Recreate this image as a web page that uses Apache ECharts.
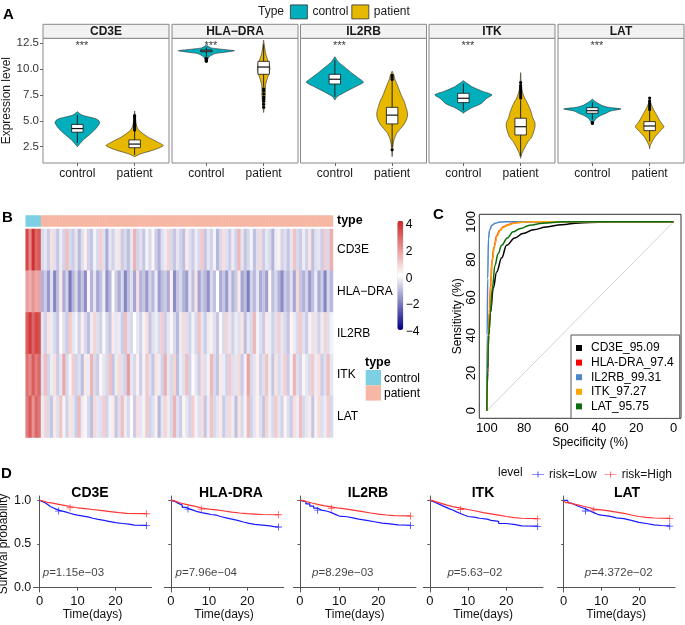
<!DOCTYPE html>
<html>
<head>
<meta charset="utf-8">
<script src="https://cdn.jsdelivr.net/npm/echarts@6/dist/echarts.min.js"></script>
<style>
  html, body { margin: 0; padding: 0; background: #fff; }
  #main { width: 685px; height: 625px; }
</style>
</head>
<body>
<div id="main"></div>
<script>
// ---------- data ----------
const genes = ['CD3E', 'HLA-DRA', 'IL2RB', 'ITK', 'LAT'];
const stripLabels = ['CD3E', 'HLA\u2212DRA', 'IL2RB', 'ITK', 'LAT'];
const groups = ['control', 'patient'];
const exprTicks = [2.5, 5, 7.5, 10, 12.5];

// violin outlines: [expression, half width in group units], control then patient
const violinCD3E = [
  [[2.5,0],[2.83,0.05],[3.2,0.11],[3.47,0.17],[3.8,0.24],[4.1,0.3],[4.5,0.36],[4.82,0.39],[5.05,0.37],[5.24,0.3],[5.4,0.18],[5.56,0.08],[5.88,0]],
  [[1.53,0],[1.8,0.1],[2.18,0.33],[2.6,0.5],[2.98,0.39],[3.47,0.22],[4.1,0.07],[4.6,0.03],[5.2,0.015],[5.95,0]]
];
const violinHLADRA = [
  [[10.72,0],[10.9,0.02],[11.2,0.05],[11.5,0.15],[11.65,0.35],[11.78,0.49],[11.9,0.3],[12.05,0.08],[12.2,0.03],[12.33,0]],
  [[5.8,0],[6.2,0.01],[6.8,0.02],[7.5,0.03],[8.0,0.03],[8.5,0.035],[9.0,0.06],[9.5,0.09],[10.0,0.11],[10.4,0.1],[10.9,0.07],[11.5,0.035],[12.2,0.015],[12.8,0]]
];
const violinIL2RB = [
  [[7.0,0],[7.34,0.04],[7.82,0.19],[8.3,0.36],[8.73,0.5],[9.1,0.42],[9.6,0.3],[10.24,0.16],[10.7,0.06],[11.2,0]],
  [[1.53,0],[2.3,0.01],[2.83,0.02],[3.3,0.04],[3.8,0.08],[4.2,0.14],[4.6,0.2],[5.1,0.25],[5.57,0.27],[6.0,0.26],[6.37,0.24],[6.9,0.21],[7.34,0.17],[7.9,0.13],[8.47,0.09],[9.0,0.05],[9.43,0.03],[9.8,0]]
];
const violinITK = [
  [[5.73,0],[5.88,0.03],[6.27,0.15],[6.5,0.25],[6.7,0.32],[7.0,0.37],[7.18,0.41],[7.5,0.5],[7.65,0.45],[7.82,0.35],[8.05,0.25],[8.3,0.15],[8.6,0.07],[8.88,0]],
  [[1.38,0],[1.8,0.02],[2.18,0.05],[2.6,0.09],[2.98,0.13],[3.4,0.19],[3.8,0.22],[4.4,0.25],[4.8,0.25],[5.3,0.21],[5.73,0.19],[6.2,0.16],[6.7,0.12],[7.2,0.07],[7.82,0.03],[8.6,0.01],[9.66,0]]
];
const violinLAT = [
  [[4.7,0],[4.95,0.03],[5.24,0.07],[5.5,0.14],[5.73,0.24],[5.95,0.32],[6.15,0.5],[6.3,0.28],[6.5,0.16],[6.7,0.1],[6.9,0.04],[7.1,0]],
  [[2.3,0],[2.6,0.01],[3.15,0.06],[3.5,0.1],[3.8,0.15],[4.1,0.2],[4.43,0.25],[4.75,0.21],[5.08,0.17],[5.5,0.13],[5.88,0.09],[6.3,0.05],[6.7,0.02],[7.0,0.01],[7.3,0]]
];
// box stats: [whisker low, q1, median, q3, whisker high]
const boxCD3E   = [[2.85, 3.9, 4.25, 4.65, 5.6], [1.7, 2.4, 2.75, 3.15, 4.0]];
const boxHLADRA = [[11.2, 11.68, 11.76, 11.85, 12.1], [8.3, 9.5, 10.2, 10.75, 12.4]];
const boxIL2RB  = [[7.3, 8.56, 9.02, 9.5, 10.9], [2.4, 4.7, 5.55, 6.3, 8.9]];
const boxITK    = [[6.0, 6.76, 7.18, 7.66, 8.6], [1.6, 3.63, 4.43, 5.25, 7.0]];
const boxLAT    = [[5.1, 5.73, 5.98, 6.27, 6.8], [3.0, 4.05, 4.5, 4.92, 6.0]];
const outCD3E   = [[], [4.1, 4.2, 4.3, 4.4, 4.5, 4.6, 4.7, 4.8, 5.0, 5.2, 5.4, 5.5]];
const outHLADRA = [[10.75, 10.85, 10.95, 11.05], [6.3, 6.6, 6.9, 7.1, 7.3, 7.6, 7.9, 8.1]];
const outIL2RB  = [[], [9.0, 9.2, 9.4, 2.2]];
const outITK    = [[], [7.2, 7.4, 7.6, 7.8, 8.0, 8.2, 8.4, 8.7]];
const outLAT    = [[4.75, 4.85], [6.1, 6.3, 6.5, 6.7, 6.9, 7.2]];

// heatmap (z-scores), first 5 columns control, rest patient
const typeCounts = [5, 95];
const heatRows = ['CD3E', 'HLA\u2212DRA', 'IL2RB', 'ITK', 'LAT'];
const heatCD3E = [3.4,2.2,3.8,2.8,3.1,
  -0.6,-0.4,-0.8,0.6,-0.5,-0.9,-0.3,-0.7,1.2,-0.6,-0.8,-0.4,-1.1,-0.5,0.3,-0.7,-0.9,-0.2,-0.6,0.9,
  -0.5,-1.3,-0.4,-0.7,-0.3,0.5,-0.8,-0.6,-1.0,-0.4,1.4,-0.7,-0.5,-0.9,-0.2,-0.6,0.2,-0.8,-1.2,-0.5,
  -0.3,0.8,-0.6,-0.9,-0.4,-0.7,-1.0,0.4,-0.5,-0.8,-0.3,-0.6,1.0,-0.9,-0.4,-0.7,-0.2,-1.1,-0.6,0.6,
  -0.5,-0.8,-0.3,-0.7,1.3,-0.4,-0.9,-0.6,-0.2,-1.0,-0.5,0.7,-0.8,-0.4,-0.6,-1.2,-0.3,0.3,-0.7,-0.5,
  -0.9,-0.4,1.1,-0.6,-0.8,-0.3,-0.7,0.5,-1.0,-0.5,-0.4,-0.8,0.9,-0.6,1.5];
const heatHLADRA = [1.8,1.5,2.0,1.6,1.7,
  -1.2,-0.8,-1.6,-0.5,-1.9,-1.0,0.4,-1.3,-0.7,-2.1,-1.1,-0.6,-1.5,-0.9,-1.8,0.2,-1.2,-0.4,-1.4,-1.0,
  -0.3,-1.7,-1.1,0.1,-0.8,-1.3,-0.6,-1.9,-1.0,-0.5,-1.4,0.6,-1.2,-0.9,-1.6,-0.7,-1.1,-0.3,-1.5,-1.0,
  -0.8,-1.3,0.3,-1.8,-0.9,-0.6,-1.2,-1.5,-0.4,-1.0,0.5,-1.4,-0.8,-1.1,-1.7,-0.6,-1.0,0.0,-1.3,-0.9,
  -1.6,-0.5,-1.2,-0.8,0.4,-1.4,-1.0,-2.0,-0.7,-1.1,-0.4,-1.3,-0.9,-1.5,0.2,-1.0,-0.6,-1.2,-1.8,-0.8,
  -1.1,-0.5,-1.4,0.7,-0.9,-1.2,-0.7,-1.6,-1.0,-0.3,-1.3,-0.8,-1.9,-0.6,-1.1];
const heatIL2RB = [3.0,3.6,2.8,3.4,3.2,
  -0.4,-0.7,0.5,-0.3,-0.6,-0.9,0.1,-0.5,-0.8,1.0,-0.4,-0.2,-0.7,0.3,-0.6,-1.0,-0.3,0.8,-0.5,-0.7,
  -0.1,-0.6,-0.9,0.4,-0.4,-0.3,-0.8,1.2,-0.5,-0.6,0.0,-0.4,-0.7,-0.2,0.6,-0.9,-0.5,-0.3,-0.6,0.9,
  -0.8,-0.4,0.2,-0.6,-1.1,-0.3,0.7,-0.5,-0.7,-0.2,-0.6,1.1,-0.4,-0.8,-0.3,0.3,-0.5,-0.9,-0.1,-0.6,
  0.8,-0.4,-0.7,-0.3,-0.5,0.5,-1.0,-0.4,-0.6,1.3,-0.2,-0.5,-0.8,0.4,-0.3,-0.7,-0.5,0.9,-0.4,-0.6,
  -0.9,0.2,-0.3,-0.6,1.0,-0.5,-0.8,-0.2,0.6,-0.4,-0.7,-0.3,0.8,-0.5,-0.2];
const heatITK = [2.6,2.2,3.0,2.4,2.8,
  -0.5,1.2,-0.7,-0.3,0.6,-0.8,-0.4,1.6,-0.6,-0.2,0.9,-0.7,-0.5,-1.0,0.4,-0.3,1.4,-0.6,-0.8,0.2,
  -0.4,-0.6,1.1,-0.9,-0.3,0.7,-0.5,-0.7,1.8,-0.4,-0.6,0.3,-0.8,-0.2,1.0,-0.5,-0.9,0.5,-0.3,-0.7,
  1.5,-0.4,-0.6,0.8,-1.0,-0.3,-0.5,1.2,-0.7,0.1,-0.4,-0.8,0.6,-0.5,-0.2,1.3,-0.6,-0.9,0.4,-0.3,
  -0.7,1.0,-0.5,-0.4,0.7,-0.8,-0.2,1.7,-0.6,-0.4,0.3,-0.7,-0.5,1.1,-0.3,-0.9,0.5,-0.6,-0.4,0.9,
  -0.8,-0.2,1.4,-0.5,-0.7,0.2,-0.4,-0.6,1.0,-0.3,0.6,-0.8,-0.5,1.2,-0.4];
const heatLAT = [2.4,3.0,2.0,2.8,2.5,
  -0.3,0.8,-0.6,-0.9,0.4,-0.5,1.1,-0.2,-0.7,0.5,-0.4,-0.8,1.3,-0.3,0.2,-0.6,-1.0,0.7,-0.4,-0.5,
  0.9,-0.7,-0.2,0.4,-0.9,-0.5,1.2,-0.3,-0.6,0.1,-0.8,0.6,-0.4,-0.2,1.0,-0.7,-0.5,0.3,-1.1,-0.4,
  0.8,-0.3,-0.6,1.4,-0.5,-0.8,0.2,-0.4,-0.7,0.9,-0.2,-0.5,0.6,-0.9,-0.3,1.1,-0.6,-0.4,0.4,-0.8,
  -0.5,0.7,-0.3,-1.0,0.5,-0.6,-0.2,1.3,-0.7,-0.4,0.3,-0.5,-0.9,0.8,-0.3,-0.6,1.0,-0.4,-0.7,0.2,
  -0.5,-0.8,0.6,-0.3,1.2,-0.6,-0.4,0.4,-0.9,-0.2,0.7,-0.5,-0.3,0.9,-0.6];

// ROC: [specificity %, sensitivity %]
const rocAuc = [95.09, 97.4, 99.31, 97.27, 95.75];
const rocCD3E = [[100,0],[99.5,20],[99,40],[98,52],[96.5,65],[94.7,73.5],[92,81],[89.4,87.6],[85,91.5],[80.6,93.8],[75,95.8],[68,97.3],[60,98.5],[50.5,99.4],[40,99.8],[30,100],[0,100]];
const rocHLADRA = [[100,0],[99.5,25],[99,42],[98.6,52],[97.8,68],[97.3,78.6],[96,87],[94.7,92.7],[93,95.5],[91.2,97.3],[88,98.6],[85.9,99.4],[80,99.9],[77,100],[0,100]];
const rocIL2RB = [[100,0],[99.8,40],[99.5,70],[99.1,91],[98.5,95.5],[97.3,98.2],[95.5,99.3],[92.9,99.9],[90,100],[0,100]];
const rocITK = [[100,0],[99.5,24],[99,41],[98.5,53],[97.7,68],[97.2,79],[95.8,87.5],[94.5,92.5],[92.8,95.5],[91,97.2],[88,98.5],[85.5,99.3],[80,99.9],[76,100],[0,100]];
const rocLAT = [[100,0],[99.5,22],[99,40],[98,52],[97,65],[95.6,77],[94,83],[92,87.6],[89,91.5],[85.9,94.7],[82,96.5],[77,98.2],[70,99.2],[59.3,100],[0,100]];
const rocTicks = [0, 20, 40, 60, 80, 100];

// Kaplan-Meier: [days, survival]
const kmLowCD3E = [[0,1],[0.3,0.985],[0.8,0.97],[1.5,0.95],[2.2,0.93],[2.8,0.915],[3.5,0.9],[4.3,0.888],[5,0.877],[6,0.865],[7,0.852],[8,0.839],[9,0.83],[10,0.82],[11.5,0.808],[13,0.795],[14,0.782],[15.5,0.77],[17,0.757],[18.6,0.744],[20,0.735],[22,0.725],[24,0.716],[25,0.713],[28.2,0.713]];
const kmHighCD3E = [[0,1],[0.5,0.99],[1.2,0.978],[2,0.968],[3.5,0.954],[5,0.942],[6.5,0.93],[8,0.915],[10,0.905],[12,0.895],[14,0.885],[16,0.872],[18.6,0.86],[21,0.852],[23,0.847],[28.2,0.847]];
const kmLowHLADRA = [[0,1],[0.5,0.985],[1.2,0.965],[2,0.945],[3,0.92],[4,0.9],[5,0.885],[6,0.87],[7,0.86],[8,0.848],[9.5,0.838],[10.5,0.83],[12,0.815],[13,0.8],[14.5,0.785],[16,0.77],[17.5,0.752],[19,0.737],[20.5,0.725],[22,0.717],[24,0.707],[26,0.7],[27,0.695],[28.2,0.695]];
const kmHighHLADRA = [[0,1],[0.6,0.985],[1.5,0.97],[2.5,0.955],[4,0.94],[5.5,0.925],[7,0.912],[8,0.9],[10,0.89],[12,0.878],[14,0.866],[16,0.855],[18,0.848],[20,0.843],[22,0.838],[24,0.835],[28.2,0.835]];
const kmLowIL2RB = [[0,1],[0.5,0.985],[1.5,0.96],[2.5,0.935],[3.5,0.91],[4.5,0.888],[5.5,0.875],[7,0.86],[8,0.84],[9,0.82],[10,0.812],[12,0.8],[13.5,0.785],[15,0.77],[17,0.755],[19,0.74],[21,0.73],[23,0.72],[25,0.715],[28.2,0.713]];
const kmHighIL2RB = [[0,1],[0.7,0.985],[1.6,0.97],[3,0.955],[4.5,0.94],[6,0.925],[8,0.91],[10,0.9],[12,0.885],[14,0.87],[16,0.855],[18,0.842],[20,0.832],[22,0.826],[24,0.822],[28.2,0.82]];
const kmLowITK = [[0,1],[0.4,0.985],[1,0.965],[2,0.945],[3,0.925],[4,0.905],[5,0.89],[6,0.868],[7,0.85],[8,0.832],[9,0.815],[10,0.805],[12,0.795],[13,0.785],[15,0.77],[16,0.76],[18,0.735],[20,0.725],[22,0.708],[24,0.704],[28.2,0.7]];
const kmHighITK = [[0,1],[0.6,0.985],[1.5,0.965],[3,0.945],[4.5,0.928],[6,0.912],[8,0.895],[10,0.878],[12,0.86],[14,0.845],[16,0.83],[18,0.815],[20,0.802],[22,0.795],[24,0.79],[28.2,0.787]];
const kmLowLAT = [[0,1],[1,1],[1.3,0.97],[2,0.95],[3,0.93],[4,0.915],[5,0.9],[6,0.878],[7,0.86],[8,0.84],[9,0.83],[10,0.82],[12,0.81],[13,0.8],[14,0.79],[16,0.77],[18,0.748],[20,0.735],[22,0.72],[24,0.712],[26,0.707],[28.2,0.704]];
const kmHighLAT = [[0,1],[0.5,0.975],[1.2,0.96],[2.5,0.945],[4,0.93],[5.5,0.915],[7,0.9],[8,0.89],[10,0.88],[12,0.865],[14,0.85],[16,0.832],[18,0.815],[20,0.805],[22,0.798],[24,0.793],[28.2,0.79]];
// censor marks
const cenLow = [[[5,0.877],[28.2,0.713]], [[4.5,0.9],[28.2,0.695]], [[4.5,0.888],[28.2,0.713]], [[28.2,0.7]], [[5.8,0.878],[28.2,0.704]]];
const cenHigh = [[[8,0.915],[28.2,0.847]], [[8,0.9],[28.2,0.835]], [[8,0.91],[28.2,0.82]], [[8,0.895],[28.2,0.787]], [[8,0.89],[28.2,0.79]]];
const pValues = ['1.15e\u221203', '7.96e\u221204', '8.29e\u221203', '5.63\u221202', '4.372e\u221202'];
const riskLevels = ['risk=Low', 'risk=High'];
const timeTicks = [0, 10, 20];
const survTicks = [0, 0.5, 1];

// ---------- look ----------
const FONT = 'Liberation Sans, Arial, Helvetica, sans-serif';
const groupColors = ['#00AFBB', '#E7B800'];
const typeColors = ['#7DCFE3', '#F6B8A4'];
const rocColors = ['#000000', '#FF0000', '#4A86C8', '#FFA500', '#0B6E0B'];
const kmColors = ['#1a1aff', '#ff3535'];

const facetLeft = [43, 172, 300.5, 429, 558];
const facetW = 126;
const survLeft = [33.3, 164.3, 293.3, 423.3, 557.3];
const survW = [118.4, 119.5, 122.7, 119.7, 117.7];
const survTitleX = [90, 231, 368, 483, 627];
const pLabelX = [0.8, 1.25, 3.1, 4.6, 5.6];

const violinShapes = [violinCD3E, violinHLADRA, violinIL2RB, violinITK, violinLAT];
const boxStats = [boxCD3E, boxHLADRA, boxIL2RB, boxITK, boxLAT];
const outlierStats = [outCD3E, outHLADRA, outIL2RB, outITK, outLAT];
const heatValues = [heatCD3E, heatHLADRA, heatIL2RB, heatITK, heatLAT];
const rocData = [rocCD3E, rocHLADRA, rocIL2RB, rocITK, rocLAT];
const kmLow = [kmLowCD3E, kmLowHLADRA, kmLowIL2RB, kmLowITK, kmLowLAT];
const kmHigh = [kmHighCD3E, kmHighHLADRA, kmHighIL2RB, kmHighITK, kmHighLAT];
const rocNames = genes.map((g, i) => g + '_' + rocAuc[i]);
const minus = v => String(v).replace('-', '\u2212');

function makeViolin(gi, k) {
  const shape = violinShapes[gi][k];
  const box = boxStats[gi][k];
  const outs = outlierStats[gi][k];
  return function (params, api) {
    const cx = api.value(0);
    const pts = [];
    shape.forEach(p => pts.push(api.coord([cx - p[1], p[0]])));
    for (let i = shape.length - 1; i >= 0; i--) pts.push(api.coord([cx + shape[i][1], shape[i][0]]));
    const hw = 0.1;
    const lo = api.coord([cx, box[0]]), hi = api.coord([cx, box[4]]);
    const tl = api.coord([cx - hw, box[3]]), br = api.coord([cx + hw, box[1]]);
    const ml = api.coord([cx - hw, box[2]]), mr = api.coord([cx + hw, box[2]]);
    const children = [
      { type: 'polygon', shape: { points: pts, smooth: 0.2 }, style: { fill: groupColors[k], stroke: '#2b2b2b', lineWidth: 0.6 } },
      { type: 'line', shape: { x1: lo[0], y1: lo[1], x2: hi[0], y2: hi[1] }, style: { stroke: '#111', lineWidth: 0.9 } }
    ];
    outs.forEach(v => {
      const c = api.coord([cx, v]);
      children.push({ type: 'circle', shape: { cx: c[0], cy: c[1], r: 1.6 }, style: { fill: '#000' } });
    });
    children.push({ type: 'rect', shape: { x: tl[0], y: tl[1], width: br[0] - tl[0], height: br[1] - tl[1] }, style: { fill: '#fff', stroke: '#111', lineWidth: 0.8 } });
    children.push({ type: 'line', shape: { x1: ml[0], y1: ml[1], x2: mr[0], y2: mr[1] }, style: { stroke: '#111', lineWidth: 1.2 } });
    return { type: 'group', children: children };
  };
}

// ---------- layout ----------
const grids = [], xAxes = [], yAxes = [], series = [], graphics = [];

// A: violins
genes.forEach((g, i) => {
  grids.push({ left: facetLeft[i], top: 38.3, width: facetW, height: 124.7, show: true, borderColor: '#888', borderWidth: 1, outerBoundsMode: 'none' });
  xAxes.push({
    type: 'value', gridIndex: i, min: 0.4, max: 2.6,
    axisLine: { show: false }, splitLine: { show: false },
    axisTick: { show: true, customValues: [1, 2], length: 3, lineStyle: { color: '#666' } },
    axisLabel: { customValues: [1, 2], formatter: v => groups[Math.round(v) - 1], fontSize: 12, color: '#1a1a1a', margin: 5 }
  });
  yAxes.push({
    type: 'value', gridIndex: i, min: 0.92, max: 12.98,
    axisLine: { show: false }, splitLine: { show: false },
    axisTick: { show: i === 0, customValues: exprTicks, length: 3, lineStyle: { color: '#666' } },
    axisLabel: { show: i === 0, customValues: exprTicks, formatter: v => v.toFixed(1), fontSize: 11.5, color: '#333', margin: 4 },
    name: i === 0 ? 'Expression level' : '', nameLocation: 'middle', nameGap: 30,
    nameTextStyle: { fontSize: 12, color: '#1a1a1a' }
  });
  groups.forEach((grp, k) => {
    series.push({
      type: 'custom', name: grp, xAxisIndex: i, yAxisIndex: i,
      itemStyle: { color: groupColors[k] },
      renderItem: makeViolin(i, k),
      data: [[k + 1, boxStats[i][k][2]]], silent: true
    });
  });
  series.push({
    type: 'scatter', xAxisIndex: i, yAxisIndex: i, symbolSize: 0, silent: true,
    data: [[1.08, 12.2]],
    label: { show: true, position: 'inside', formatter: '***', fontSize: 11, color: '#000' }
  });
  graphics.push({ type: 'rect', shape: { x: facetLeft[i], y: 24.3, width: facetW, height: 14 }, style: { fill: '#F2F2F2', stroke: '#888', lineWidth: 1 } });
  graphics.push({ type: 'text', x: facetLeft[i] + facetW / 2, y: 31.8, style: { text: stripLabels[i], font: 'bold 12px ' + FONT, fill: '#1a1a1a', align: 'center', verticalAlign: 'middle' } });
});

// B: heatmap
const sampleType = [];
typeCounts.forEach((n, t) => { for (let j = 0; j < n; j++) sampleType.push(t); });
const colIdx = sampleType.map((t, c) => c);
grids.push({ left: 25.7, top: 215.5, width: 307.3, height: 11, outerBoundsMode: 'none' });   // 5
grids.push({ left: 25.7, top: 229, width: 307.3, height: 208.5, outerBoundsMode: 'none' });  // 6
grids.push({ left: 400, top: 225, width: 3.3, height: 106.7, outerBoundsMode: 'none' });     // 7
xAxes.push({ type: 'category', gridIndex: 5, data: colIdx, show: false });
yAxes.push({ type: 'category', gridIndex: 5, data: ['type'], position: 'right', axisLine: { show: false }, axisTick: { show: false }, axisLabel: { fontSize: 12.5, fontWeight: 'bold', color: '#000', margin: 4 } });
xAxes.push({ type: 'category', gridIndex: 6, data: colIdx, show: false });
yAxes.push({ type: 'category', gridIndex: 6, data: heatRows, inverse: true, position: 'right', axisLine: { show: false }, axisTick: { show: false }, axisLabel: { fontSize: 12, color: '#000', margin: 4 } });
xAxes.push({ type: 'value', gridIndex: 7, show: false, min: 0, max: 1 });
yAxes.push({ type: 'value', gridIndex: 7, min: -4, max: 4, interval: 2, position: 'right', axisLine: { show: false }, axisTick: { show: false }, splitLine: { show: false }, axisLabel: { fontSize: 12, color: '#000', margin: 2.5, formatter: v => minus(v) } });

series.push({
  type: 'heatmap', xAxisIndex: 5, yAxisIndex: 5, silent: true, progressive: 0,
  data: sampleType.map((t, c) => ({ value: [c, 0, t], itemStyle: { color: typeColors[t] } }))
});
const heatData = [];
heatValues.forEach((row, r) => row.forEach((v, c) => heatData.push([c, r, v])));
const heatSeriesIndex = series.length;
series.push({ type: 'heatmap', xAxisIndex: 6, yAxisIndex: 6, data: heatData, silent: true, progressive: 0 });

// C: ROC
grids.push({ left: 479.3, top: 214.3, width: 201.7, height: 204, show: true, borderColor: '#333', borderWidth: 1, outerBoundsMode: 'none' }); // 8
xAxes.push({
  type: 'value', gridIndex: 8, min: -4, max: 104, inverse: true,
  axisLine: { show: false }, splitLine: { show: false }, axisTick: { show: false },
  axisLabel: { customValues: rocTicks, fontSize: 13, color: '#000', margin: 4 },
  name: 'Specificity (%)', nameLocation: 'middle', nameGap: 14, nameTextStyle: { fontSize: 12, color: '#000', padding: [0, 0, 0, 20] }
});
yAxes.push({
  type: 'value', gridIndex: 8, min: -4, max: 104,
  axisLine: { show: false }, splitLine: { show: false }, axisTick: { show: false },
  axisLabel: { customValues: rocTicks, rotate: 90, fontSize: 13, color: '#000', margin: 1 },
  name: 'Sensitivity (%)', nameLocation: 'middle', nameGap: 16, nameTextStyle: { fontSize: 12, color: '#000' }
});
series.push({
  type: 'line', xAxisIndex: 8, yAxisIndex: 8, data: [[100, 0], [0, 100]], showSymbol: false, silent: true,
  lineStyle: { color: '#C8C8C8', width: 0.8 }
});
genes.forEach((g, i) => {
  series.push({
    type: 'line', name: rocNames[i], xAxisIndex: 8, yAxisIndex: 8, data: rocData[i],
    showSymbol: false, smooth: 0.4, smoothMonotone: 'x', silent: true,
    itemStyle: { color: rocColors[i] }, lineStyle: { color: rocColors[i], width: 1.5 }
  });
});

// D: survival
const crossIcon = 'path://M0,4.4H20V5.6H0ZM9.4,0H10.6V10H9.4Z';
genes.forEach((g, i) => {
  const gi = 9 + i;
  grids.push({ left: survLeft[i], top: 496, width: survW[i], height: 96, outerBoundsMode: 'none' });
  xAxes.push({
    type: 'value', gridIndex: gi, min: -1.7, max: 29.6,
    axisLine: { show: true, lineStyle: { color: '#555' } }, splitLine: { show: false },
    axisTick: { show: true, customValues: timeTicks, length: 3, lineStyle: { color: '#555' } },
    axisLabel: { customValues: timeTicks, fontSize: 13, color: '#111', margin: 3 },
    name: 'Time(days)', nameLocation: 'middle', nameGap: 17, nameTextStyle: { fontSize: 12, color: '#111' }
  });
  yAxes.push({
    type: 'value', gridIndex: gi, min: -0.05, max: 1.05,
    axisLine: { show: true, lineStyle: { color: '#555' } }, splitLine: { show: false },
    axisTick: { show: true, customValues: survTicks, length: 2.5, lineStyle: { color: '#555' } },
    axisLabel: { show: i === 0, customValues: survTicks, formatter: v => v.toFixed(1), fontSize: 12.5, color: '#111', margin: 2 },
    name: i === 0 ? 'Survival probability' : '', nameLocation: 'middle', nameGap: 19, nameTextStyle: { fontSize: 12, color: '#111' }
  });
  [kmLow[i], kmHigh[i]].forEach((curve, k) => {
    series.push({
      type: 'line', name: riskLevels[k], xAxisIndex: gi, yAxisIndex: gi, data: curve, step: 'end',
      showSymbol: false, silent: true, itemStyle: { color: kmColors[k] }, lineStyle: { color: kmColors[k], width: 1.2 }
    });
  });
  [cenLow[i], cenHigh[i]].forEach((marks, k) => {
    series.push({
      type: 'scatter', name: riskLevels[k], xAxisIndex: gi, yAxisIndex: gi, data: marks, silent: true,
      symbol: 'path://M4.4,0H5.6V10H4.4ZM0,4.4H10V5.6H0Z', symbolSize: 7, itemStyle: { color: kmColors[k] }
    });
  });
  series.push({
    type: 'scatter', xAxisIndex: gi, yAxisIndex: gi, symbolSize: 0, silent: true,
    data: [[pLabelX[i], 0.17]],
    label: {
      show: true, position: 'right', distance: 0, formatter: '{i|p}=' + pValues[i],
      fontSize: 11.5, color: '#111', rich: { i: { fontStyle: 'italic', fontSize: 11.5, color: '#111' } }
    }
  });
  graphics.push({ type: 'text', x: survTitleX[i], y: 493, style: { text: g, font: 'bold 14px ' + FONT, fill: '#000', align: 'center', verticalAlign: 'middle' } });
});

// labels
[['A', 3, 14.5], ['B', 2, 217.5], ['C', 433, 215], ['D', 1, 473.5]].forEach(p => {
  graphics.push({ type: 'text', x: p[1], y: p[2], style: { text: p[0], font: 'bold 15px ' + FONT, fill: '#000', verticalAlign: 'middle' } });
});
graphics.push({ type: 'text', x: 258, y: 11.5, style: { text: 'Type', font: '12px ' + FONT, fill: '#1a1a1a', verticalAlign: 'middle' } });
graphics.push({ type: 'text', x: 498, y: 473, style: { text: 'level', font: '12px ' + FONT, fill: '#111', verticalAlign: 'middle' } });
graphics.push({ type: 'text', x: 365, y: 363, style: { text: 'type', font: 'bold 12.5px ' + FONT, fill: '#000', verticalAlign: 'middle' } });
groups.forEach((grp, t) => {
  graphics.push({ type: 'rect', shape: { x: 365.7, y: 370 + t * 15.3, width: 15.3, height: 15.3 }, style: { fill: typeColors[t] } });
  graphics.push({ type: 'text', x: 384, y: 378.5 + t * 15.5, style: { text: grp, font: '12px ' + FONT, fill: '#000', verticalAlign: 'middle' } });
});

const chart = echarts.init(document.getElementById('main'), null, { renderer: 'canvas' });
chart.setOption({
  animation: false,
  backgroundColor: '#fff',
  textStyle: { fontFamily: FONT },
  grid: grids,
  xAxis: xAxes,
  yAxis: yAxes,
  visualMap: {
    type: 'continuous', seriesIndex: heatSeriesIndex, min: -4, max: 4,
    inRange: { color: ['#000080', '#FFFFFF', '#CD2626'] },
    left: 397.3, top: 220.7, itemWidth: 6, itemHeight: 109.3, padding: 0,
    calculable: false, text: null, hoverLink: false
  },
  legend: [
    {
      data: groups, left: 290, top: 4.5, padding: 0, itemWidth: 17, itemHeight: 14, itemGap: 3,
      icon: 'rect', selectedMode: false, itemStyle: { borderColor: '#333', borderWidth: 0.8 },
      textStyle: { fontSize: 12, color: '#1a1a1a' }
    },
    {
      data: rocNames, orient: 'vertical', left: 571, top: 335, padding: [6, 6, 5, 5],
      itemWidth: 6, itemHeight: 6, itemGap: 0.6, icon: 'rect', selectedMode: false,
      borderColor: '#555', borderWidth: 1, backgroundColor: '#fff',
      textStyle: { fontSize: 12, color: '#000', lineHeight: 14, padding: [0, 0, 0, 4] }
    },
    {
      data: riskLevels, left: 532, top: 468.5, padding: 0, itemWidth: 12, itemHeight: 9, itemGap: 8,
      icon: crossIcon, selectedMode: false, textStyle: { fontSize: 12, color: '#111' }
    }
  ],
  graphic: graphics,
  series: series
});
</script>
</body>
</html>
